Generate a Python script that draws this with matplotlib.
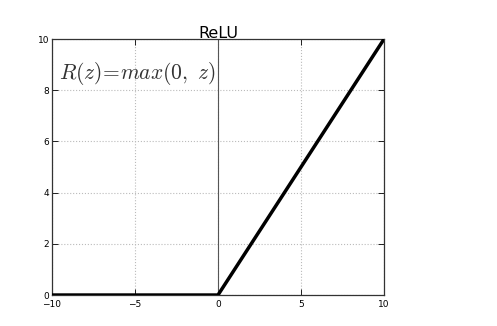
"""ReLU activation figure."""
import matplotlib
matplotlib.use("Agg")
import matplotlib.pyplot as plt  # noqa: E402

plt.rcParams["mathtext.fontset"] = "cm"

z = [-10, 0, 10]
relu = [0, 0, 10]
xticks = [-10, -5, 0, 5, 10]
yticks = [0, 2, 4, 6, 8, 10]

fig = plt.figure(figsize=(4.97, 3.26), dpi=100)
ax = fig.add_axes([0.1046, 0.095, 0.668, 0.785])
ax.plot(z, relu, color="black", lw=2.5, solid_capstyle="butt", zorder=3)
ax.axvline(0, color="#555555", lw=0.8, zorder=2)
ax.set_xlim(-10, 10)
ax.set_ylim(0, 10)
ax.set_xticks(xticks)
ax.set_yticks(yticks)
ax.grid(True, ls=":", color="#bbbbbb", lw=0.8)
ax.tick_params(direction="in", labelsize=6.5, length=4, width=0.6, pad=2,
               top=True, right=True)
ax.tick_params(axis="x", pad=3.5)
for s in ax.spines.values():
    s.set_linewidth(0.9)
    s.set_color("#333333")
ax.set_title("ReLU", fontsize=11.5, pad=1)
ax.text(-9.55, 8.45, r"$R(z)\!=\!max(0,\ z)$", fontsize=15.5, color="#333333")

fig.savefig("out.png", dpi=100)
plt.close(fig)
